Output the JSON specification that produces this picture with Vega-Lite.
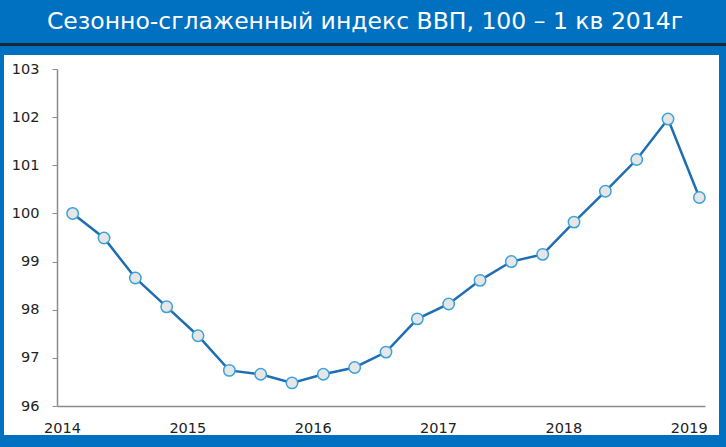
{
  "$schema": "https://vega.github.io/schema/vega-lite/v6.json",
  "autosize": "none",
  "width": 648,
  "height": 337,
  "padding": {"left": 57, "top": 69, "right": 21, "bottom": 41},
  "background": "white",
  "config": {"view": {"stroke": null}},
  "title": {
    "text": "Сезонно-сглаженный индекс ВВП, 100 – 1 кв 2014г",
    "color": "white",
    "font": "DejaVu Sans",
    "fontSize": 23.5,
    "fontWeight": "normal",
    "anchor": "middle",
    "frame": "group",
    "dx": -16,
    "baseline": "alphabetic",
    "offset": -52
  },
  "data": {
    "values": [
      {"t": 2014.125, "v": 100.0},
      {"t": 2014.375, "v": 99.49},
      {"t": 2014.625, "v": 98.66},
      {"t": 2014.875, "v": 98.06},
      {"t": 2015.125, "v": 97.46},
      {"t": 2015.375, "v": 96.74},
      {"t": 2015.625, "v": 96.66},
      {"t": 2015.875, "v": 96.48},
      {"t": 2016.125, "v": 96.66},
      {"t": 2016.375, "v": 96.8},
      {"t": 2016.625, "v": 97.12},
      {"t": 2016.875, "v": 97.81},
      {"t": 2017.125, "v": 98.12},
      {"t": 2017.375, "v": 98.61},
      {"t": 2017.625, "v": 99.0},
      {"t": 2017.875, "v": 99.15},
      {"t": 2018.125, "v": 99.82},
      {"t": 2018.375, "v": 100.46},
      {"t": 2018.625, "v": 101.12},
      {"t": 2018.875, "v": 101.96},
      {"t": 2019.125, "v": 100.33}
    ]
  },
  "layer": [
    {
      "mark": {"type": "rect", "color": "#0070C0"},
      "encoding": {
        "x": {"datum": 2013.545, "type": "quantitative"},
        "x2": {"datum": 2019.3375},
        "y": {"datum": 104.433, "type": "quantitative"},
        "y2": {"datum": 103.291}
      }
    },
    {
      "mark": {"type": "rect", "color": "#0070C0"},
      "encoding": {
        "x": {"datum": 2013.545, "type": "quantitative"},
        "x2": {"datum": 2013.577},
        "y": {"datum": 104.433, "type": "quantitative"},
        "y2": {"datum": 95.148}
      }
    },
    {
      "mark": {"type": "rect", "color": "#0070C0"},
      "encoding": {
        "x": {"datum": 2019.282, "type": "quantitative"},
        "x2": {"datum": 2019.3375},
        "y": {"datum": 104.433, "type": "quantitative"},
        "y2": {"datum": 95.148}
      }
    },
    {
      "mark": {"type": "rect", "color": "#0070C0"},
      "encoding": {
        "x": {"datum": 2013.545, "type": "quantitative"},
        "x2": {"datum": 2019.3375},
        "y": {"datum": 95.398, "type": "quantitative"},
        "y2": {"datum": 95.148}
      }
    },
    {
      "mark": {"type": "rule", "color": "#1B2A3A", "strokeWidth": 1.5},
      "encoding": {
        "x": {"datum": 2013.545, "type": "quantitative"},
        "x2": {"datum": 2019.3375},
        "y": {"datum": 103.509, "type": "quantitative"}
      }
    },
    {
      "mark": {"type": "line", "color": "#1F6EB3", "strokeWidth": 2.5},
      "encoding": {
        "x": {
          "field": "t",
          "type": "quantitative",
          "scale": {"domain": [2014, 2019.17], "nice": false, "zero": false},
          "axis": {
            "title": null,
            "values": [2014, 2015, 2016, 2017, 2018, 2019],
            "format": "d",
            "labelFont": "DejaVu Sans",
            "labelFontSize": 14.5,
            "labelColor": "#222222",
            "labelPadding": 15,
            "labelOffset": 5,
            "labelFlush": false,
            "labelOverlap": false,
            "ticks": false,
            "domainColor": "#8C8C8C",
            "domainWidth": 1.5,
            "gridColor": "#E4E4E4",
            "gridWidth": 1
          }
        },
        "y": {
          "field": "v",
          "type": "quantitative",
          "scale": {"domain": [96, 103], "nice": false, "zero": false},
          "axis": {
            "title": null,
            "values": [96, 97, 98, 99, 100, 101, 102, 103],
            "labelFont": "DejaVu Sans",
            "labelFontSize": 14.5,
            "labelColor": "#222222",
            "labelPadding": 13,
            "tickSize": 5,
            "tickColor": "#8C8C8C",
            "domainColor": "#8C8C8C",
            "domainWidth": 1.5,
            "gridColor": "#EBEBEB",
            "gridWidth": 1
          }
        }
      }
    },
    {
      "mark": {"type": "point", "filled": true, "fill": "#E6E6E6", "stroke": "#3BA3D9", "strokeWidth": 1.5, "size": 130, "opacity": 1},
      "encoding": {
        "x": {"field": "t", "type": "quantitative"},
        "y": {"field": "v", "type": "quantitative"}
      }
    }
  ]
}
